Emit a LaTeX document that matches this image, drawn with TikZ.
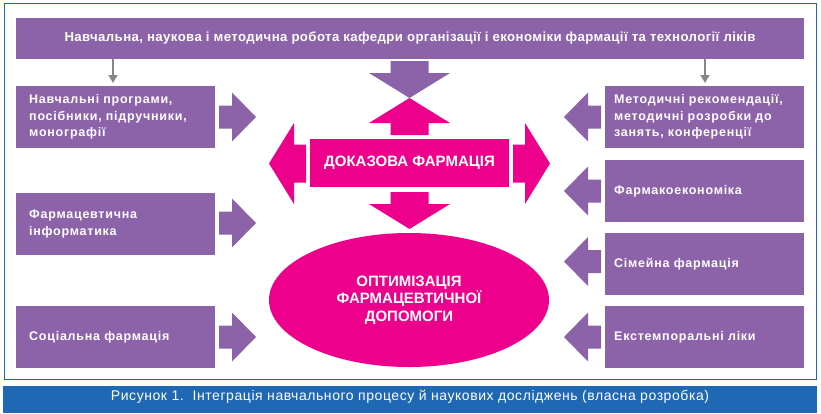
\documentclass[tikz,border=0pt]{standalone}
\usepackage{fontspec}
\setmainfont{Liberation Sans}
\newfontfamily\trkfont[LetterSpace=6]{Liberation Sans}
\newfontfamily\trktop[LetterSpace=3]{Liberation Sans}
\newfontfamily\trkcap[LetterSpace=4]{Liberation Sans}
\usetikzlibrary{shapes.geometric,arrows.meta}
\definecolor{purp}{RGB}{140,98,168}
\definecolor{pinkc}{RGB}{236,0,140}
\definecolor{capblue}{RGB}{31,104,179}
\definecolor{arrgray}{RGB}{135,135,135}
\begin{document}
\begin{tikzpicture}[x=1pt,y=-1pt,
  lbox/.style={fill=purp, text=white, font=\trkfont\bfseries\fontsize{12.5}{16.5}\selectfont,
    align=left, anchor=north west, inner ysep=0pt, inner xsep=13pt, text width=173pt,
    minimum width=199pt, minimum height=62pt},
  rbox/.style={lbox, inner xsep=9pt, text width=181pt},
  grayarr/.style={draw=arrgray, line width=1.5pt, -{Triangle[width=9pt,length=8pt]}},
  bigarr/.pic={\path[pic actions] (0,-19) -- (12,-19) -- (12,-40.5) -- (37,0) -- (12,40.5) -- (12,19) -- (0,19) -- cycle;},
  smallarr/.pic={\path[pic actions] (0,-11.5) -- (13,-11.5) -- (13,-24.5) -- (37,0) -- (13,24.5) -- (13,11.5) -- (0,11.5) -- cycle;},
]
\useasboundingbox (0,0) rectangle (821,413);
% frame and caption bar
\draw[capblue, line width=1pt] (4,3) rectangle (816,379);
\fill[capblue] (3,386) rectangle (817,413);
\node[text=white, font=\trkcap\fontsize{14}{16}\selectfont] (cap) at (410,397)
  {Рисунок 1.\ \ Інтеграція навчального процесу й наукових досліджень (власна розробка)};
% top box
\node[fill=purp, text=white, font=\trktop\bfseries\fontsize{13.2}{16}\selectfont,
  minimum width=788pt, minimum height=41pt, inner sep=0pt] (top) at (410,38.5)
  {Навчальна, наукова і методична робота кафедри організації і економіки фармації та технології ліків};
% left boxes
\node[lbox] (l1) at (16,86) {Навчальні програми,\\посібники, підручники,\\монографії};
\node[lbox] (l2) at (16,193) {Фармацевтична\\інформатика};
\node[lbox] (l3) at (16,306) {Соціальна фармація};
% right boxes
\node[rbox] (r1) at (605,86) {Методичні рекомендації,\\методичні розробки до\\занять, конференції};
\node[rbox] (r2) at (605,160) {Фармакоекономіка};
\node[rbox] (r3) at (605,233) {Сімейна фармація};
\node[rbox] (r4) at (605,306) {Екстемпоральні ліки};
% gray connectors
\coordinate (g1) at (113,0);
\coordinate (g2) at (705,0);
\draw[grayarr] (top.south -| g1) -- ([yshift=3pt]l1.north -| g1);
\draw[grayarr] (top.south -| g2) -- ([yshift=3pt]r1.north -| g2);
% center box and ellipse
\node[fill=pinkc, text=white, font=\bfseries\fontsize{15}{17}\selectfont,
  minimum width=199pt, minimum height=48pt, inner sep=0pt] (dok) at (409.5,163) {ДОКАЗОВА ФАРМАЦІЯ};
\node[ellipse, fill=pinkc, text=white, font=\bfseries\fontsize{15}{17.5}\selectfont, align=center,
  minimum width=280pt, minimum height=134pt, inner sep=0pt] (opt) at (409,300)
  {ОПТИМІЗАЦІЯ\\ФАРМАЦЕВТИЧНОЇ\\ДОПОМОГИ};
% center block arrows
\pic[fill=purp, rotate=-90] at (409.5,61) {bigarr};
\pic[fill=pinkc, rotate=90] at (409.5,135) {bigarr};
\pic[fill=pinkc, rotate=-90] at (409.5,192) {bigarr};
\pic[fill=pinkc, rotate=180] at (306,163.5) {bigarr};
\pic[fill=pinkc] at (513,163.5) {bigarr};
% side block arrows
\pic[fill=purp] at (219,117) {smallarr};
\pic[fill=purp] at (219,223) {smallarr};
\pic[fill=purp] at (219,337) {smallarr};
\pic[fill=purp, rotate=180] at (601,117) {smallarr};
\pic[fill=purp, rotate=180] at (601,191) {smallarr};
\pic[fill=purp, rotate=180] at (601,261.5) {smallarr};
\pic[fill=purp, rotate=180] at (601,337) {smallarr};
\end{tikzpicture}
\end{document}
